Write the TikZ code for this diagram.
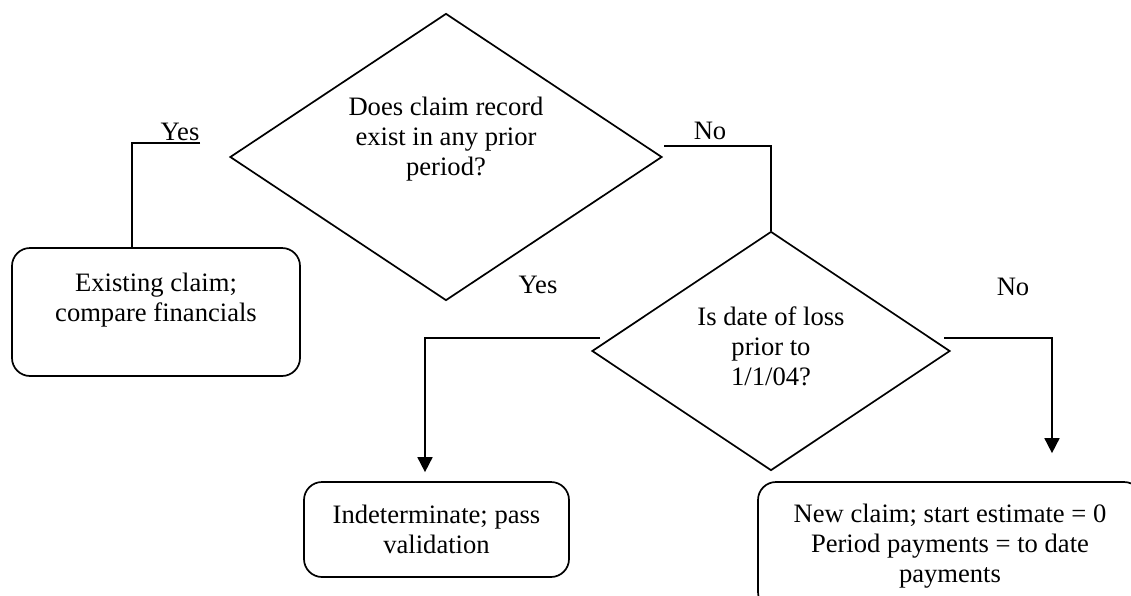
\documentclass[tikz,border=0pt]{standalone}
\usepackage{fontspec}
\setmainfont{Liberation Serif}
\usetikzlibrary{shapes.geometric,arrows.meta,calc}

\tikzset{
  decision/.style={draw,diamond,inner sep=0pt},
  outcome/.style={draw,rectangle,rounded corners=9pt,align=center,inner sep=0pt},
  txt/.style={align=center},
  arr/.style={-{Triangle[width=7.5pt,length=7.5pt]}}
}

\begin{document}
\begin{tikzpicture}[x=0.5pt,y=0.5pt,yscale=-1,line width=0.85pt,
    font=\fontsize{13.3}{15}\selectfont]
    \useasboundingbox (0,0) rectangle (1131,595);
    \clip (0,0) rectangle (1131,595);

    %Shape: Diamond [first question]
    \node[decision,minimum width=216pt,minimum height=143.5pt] (q1) at (446,157) {};
    % Text Node
    \node[txt] (q1txt) at (446,139) {Does claim record\\exist in any prior\\period?};

    %Shape: Diamond [second question]
    \node[decision,minimum width=179pt,minimum height=119.5pt] (q2) at (771,351) {};
    % Text Node
    \node[txt] (q2txt) at (771,346) {Is date of loss\\prior to\\1/1/04?};

    %Shape: Rounded Rect
    \node[outcome,minimum width=144pt,minimum height=64pt] (exist) at (156,312) {};
    % Text Node
    \node[txt] (existtxt) at (156,300) {Existing claim;\\compare financials};

    %Shape: Rounded Rect
    \node[outcome,minimum width=132.5pt,minimum height=47.5pt] (indet) at (436.5,529.5)
        {Indeterminate; pass\\validation};

    %Shape: Rounded Rect
    \node[outcome,minimum width=192pt,minimum height=64pt] (newc) at (950,546)
        {New claim; start estimate = 0\\Period payments = to date\\payments};

    %Connectors
    \coordinate (q1yes) at (200,143);
    \draw (q1yes) -| ($(exist.north west)!0.417!(exist.north east)$);
    \coordinate (q1no) at (664,146);
    \draw (q1no) -| (q2.north);
    \coordinate (q2yes) at (600,338);
    \draw[arr,shorten >=4.5pt] (q2yes) -| ($(indet.north)+(-11.5,0)$);
    \coordinate (q2no) at (944,338);
    \draw[arr,shorten >=14pt] (q2no) -| ($(newc.north)+(102,0)$);

    % Text Node
    \node (yes1) at (180,132) {Yes};
    % Text Node
    \node (no1) at (710,131) {No};
    % Text Node
    \node (yes2) at (538,285) {Yes};
    % Text Node
    \node (no2) at (1013,287) {No};

\end{tikzpicture}
\end{document}
